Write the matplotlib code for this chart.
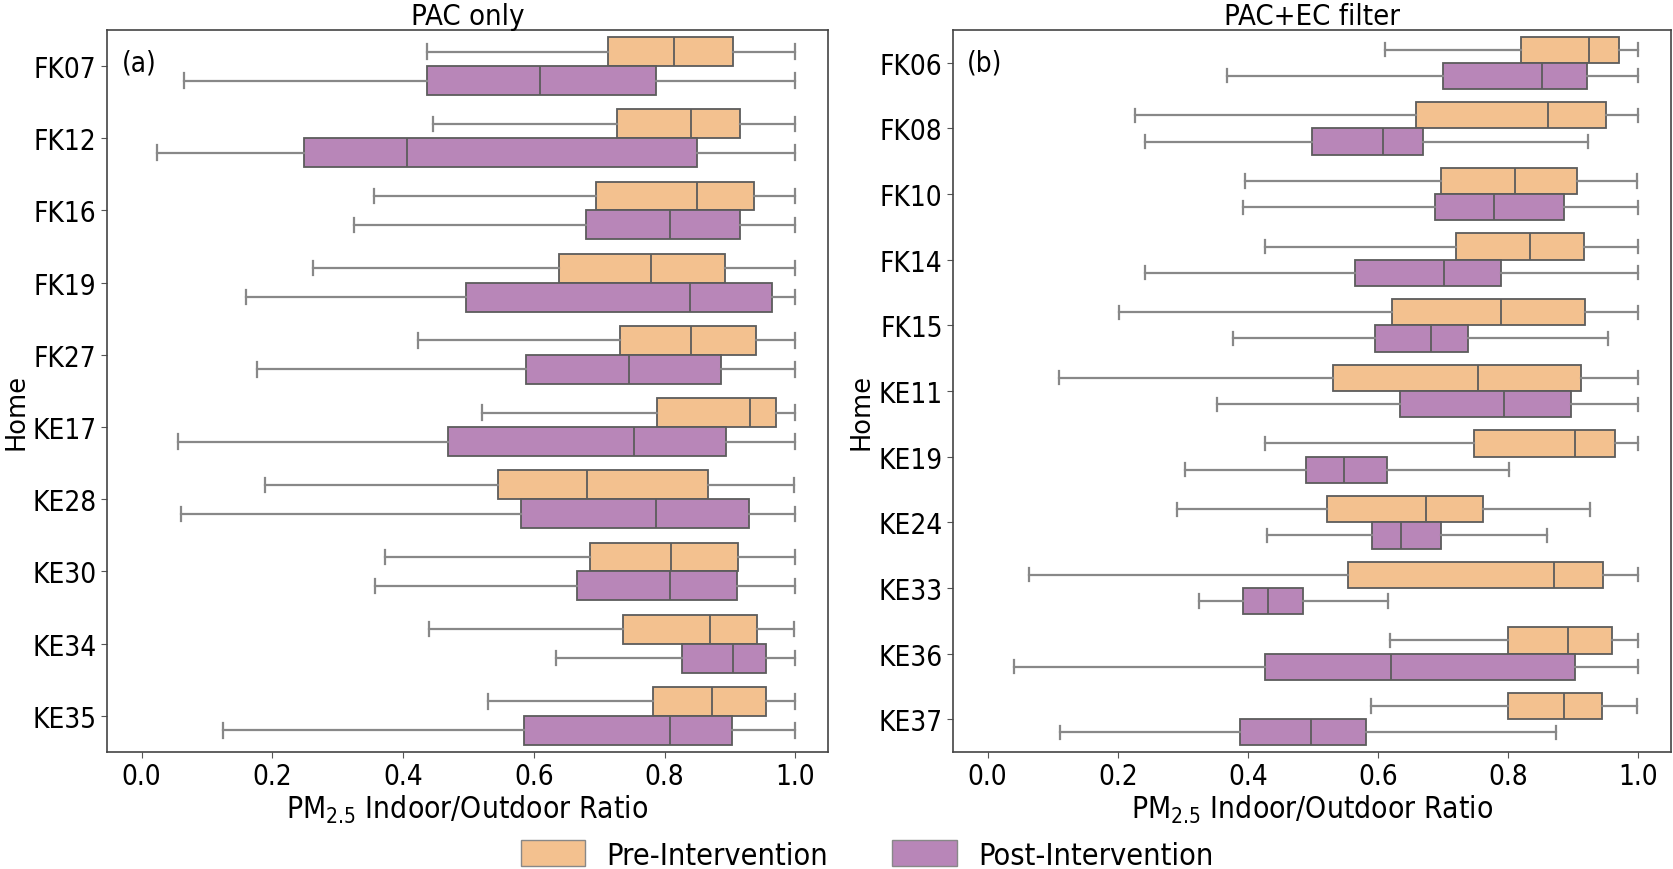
import matplotlib
matplotlib.use("Agg")
import matplotlib.pyplot as plt
from matplotlib.patches import Patch

plt.rcParams["font.family"] = ["DejaVu Sans"]
plt.rcParams["font.stretch"] = "condensed"

# PAC only homes
homes_a = ["FK07", "FK12", "FK16", "FK19", "FK27", "KE17", "KE28", "KE30", "KE34", "KE35"]
pre_a_lo = [0.437, 0.446, 0.356, 0.262, 0.423, 0.521, 0.189, 0.372, 0.440, 0.530]
pre_a_q1 = [0.714, 0.728, 0.695, 0.639, 0.732, 0.788, 0.545, 0.686, 0.737, 0.783]
pre_a_med = [0.814, 0.841, 0.849, 0.779, 0.841, 0.930, 0.681, 0.810, 0.869, 0.872]
pre_a_q3 = [0.904, 0.915, 0.937, 0.893, 0.940, 0.970, 0.867, 0.912, 0.942, 0.955]
pre_a_hi = [1.0, 1.0, 1.0, 1.0, 1.0, 1.0, 0.998, 1.0, 0.998, 1.0]
post_a_lo = [0.065, 0.024, 0.325, 0.159, 0.176, 0.055, 0.061, 0.357, 0.634, 0.125]
post_a_q1 = [0.437, 0.249, 0.680, 0.496, 0.588, 0.469, 0.581, 0.666, 0.826, 0.585]
post_a_med = [0.609, 0.406, 0.809, 0.839, 0.745, 0.753, 0.787, 0.808, 0.904, 0.809]
post_a_q3 = [0.787, 0.849, 0.915, 0.965, 0.886, 0.894, 0.929, 0.911, 0.955, 0.903]
post_a_hi = [1.0, 1.0, 1.0, 1.0, 1.0, 1.0, 1.0, 1.0, 1.0, 1.0]

# PAC+EC filter homes
homes_b = ["FK06", "FK08", "FK10", "FK14", "FK15", "KE11", "KE19", "KE24", "KE33", "KE36", "KE37"]
pre_b_lo = [0.610, 0.227, 0.395, 0.427, 0.202, 0.110, 0.427, 0.291, 0.064, 0.619, 0.589]
pre_b_q1 = [0.819, 0.658, 0.696, 0.719, 0.622, 0.531, 0.748, 0.522, 0.554, 0.800, 0.800]
pre_b_med = [0.924, 0.861, 0.811, 0.833, 0.789, 0.753, 0.903, 0.674, 0.870, 0.892, 0.885]
pre_b_q3 = [0.970, 0.950, 0.905, 0.916, 0.918, 0.912, 0.964, 0.761, 0.945, 0.959, 0.944]
pre_b_hi = [1.0, 1.0, 0.998, 1.0, 1.0, 1.0, 1.0, 0.926, 1.0, 1.0, 0.998]
post_b_lo = [0.368, 0.242, 0.393, 0.242, 0.377, 0.352, 0.304, 0.430, 0.325, 0.040, 0.112]
post_b_q1 = [0.700, 0.499, 0.687, 0.564, 0.595, 0.633, 0.490, 0.590, 0.393, 0.427, 0.388]
post_b_med = [0.852, 0.608, 0.778, 0.702, 0.682, 0.793, 0.548, 0.635, 0.431, 0.620, 0.497]
post_b_q3 = [0.921, 0.669, 0.885, 0.789, 0.738, 0.897, 0.614, 0.697, 0.485, 0.903, 0.582]
post_b_hi = [1.0, 0.922, 1.0, 1.0, 0.954, 1.0, 0.801, 0.859, 0.615, 1.0, 0.874]

pre_color = "#f3c18f"
post_color = "#b886b8"
edge = "#5c5c5c"
whisk = "#888888"


def make_stats(lo, q1, med, q3, hi):
    return [dict(whislo=a, q1=b, med=c, q3=d, whishi=e, fliers=[])
            for a, b, c, d, e in zip(lo, q1, med, q3, hi)]


def draw_panel(ax, homes, pre, post, color_list, title, tag):
    n = len(homes)
    pos = list(range(n))
    for stats, offs, col in zip([pre, post], [-0.2, 0.2], color_list):
        ax.bxp(stats, positions=[p + offs for p in pos], widths=0.4,
               orientation="horizontal", patch_artist=True, showfliers=False,
               boxprops=dict(facecolor=col, edgecolor=edge, linewidth=1.3),
               whiskerprops=dict(color=whisk, linewidth=1.6),
               capprops=dict(color=whisk, linewidth=1.6),
               medianprops=dict(color=edge, linewidth=1.3),
               manage_ticks=False)
    ax.set_yticks(pos)
    ax.set_yticklabels(homes)
    ax.set_ylim(n - 0.5, -0.5)
    ax.set_xlim(-0.053, 1.05)
    ax.set_xticks([0.0, 0.2, 0.4, 0.6, 0.8, 1.0])
    ax.set_xticklabels(["0.0", "0.2", "0.4", "0.6", "0.8", "1.0"])
    ax.tick_params(labelsize=20, color="#555555", length=4)
    ax.set_title(title, fontsize=21, pad=2)
    ax.set_xlabel("PM$_{2.5}$ Indoor/Outdoor Ratio", fontsize=21.5, labelpad=2)
    ax.set_ylabel("Home", fontsize=18.5, fontstretch="normal")
    ax.text(0.02, 0.975, tag, transform=ax.transAxes, fontsize=20, va="top")
    for s in ax.spines.values():
        s.set_color("#444444")
        s.set_linewidth(1.2)


fig = plt.figure(figsize=(16.74, 8.7), dpi=100)
ax1 = fig.add_axes([0.0639, 0.1345, 0.4307, 0.8299])
ax2 = fig.add_axes([0.5693, 0.1345, 0.4289, 0.8299])

draw_panel(ax1, homes_a,
           make_stats(pre_a_lo, pre_a_q1, pre_a_med, pre_a_q3, pre_a_hi),
           make_stats(post_a_lo, post_a_q1, post_a_med, post_a_q3, post_a_hi),
           [pre_color, post_color], "PAC only", "(a)")
draw_panel(ax2, homes_b,
           make_stats(pre_b_lo, pre_b_q1, pre_b_med, pre_b_q3, pre_b_hi),
           make_stats(post_b_lo, post_b_q1, post_b_med, post_b_q3, post_b_hi),
           [pre_color, post_color], "PAC+EC filter", "(b)")
ax1.yaxis.set_label_coords(-0.108, 0.472)
ax2.yaxis.set_label_coords(-0.110, 0.472)

handles = [Patch(facecolor=pre_color, edgecolor="#888888", label="Pre-Intervention"),
           Patch(facecolor=post_color, edgecolor="#888888", label="Post-Intervention")]
fig.legend(handles=handles, loc="center", bbox_to_anchor=(0.518, 0.016), ncol=2,
           frameon=False, fontsize=22, handlelength=2.1, handleheight=0.9,
           handletextpad=0.7, columnspacing=2.1)

fig.savefig("out.png", dpi=100)
